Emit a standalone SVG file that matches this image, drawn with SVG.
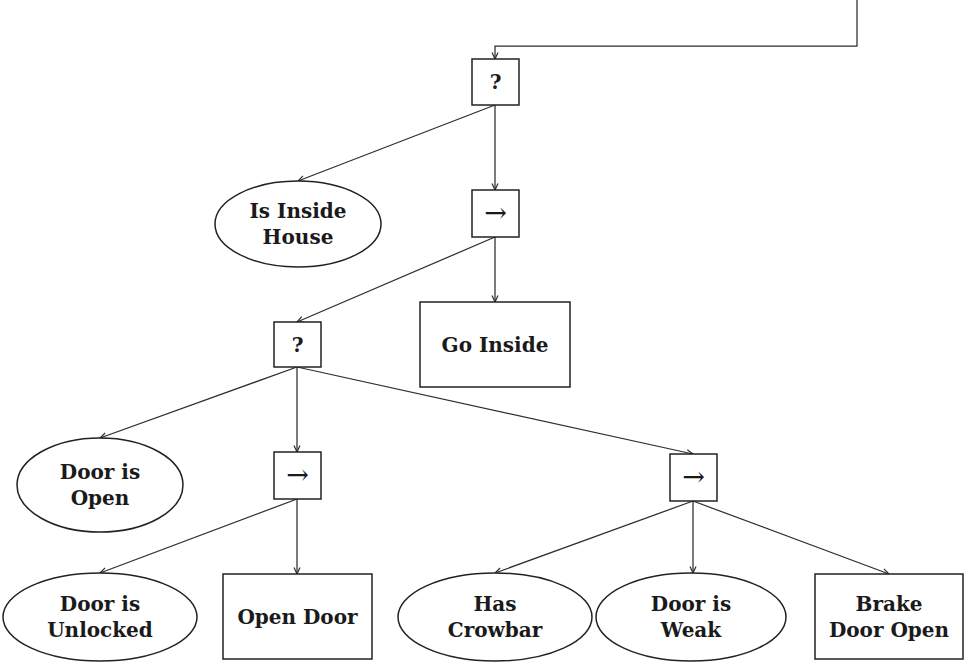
<svg xmlns="http://www.w3.org/2000/svg" width="965" height="663" viewBox="0 0 965 663">
  <style>
    .shape { fill: #ffffff; stroke: #222222; stroke-width: 1.5; }
    .edge { fill: none; stroke: #2e2e2e; stroke-width: 1.25; marker-end: url(#tip); }
    .label { font-family: "DejaVu Serif", "Liberation Serif", serif; font-weight: bold; font-size: 20px; fill: #1a1a1a; text-anchor: middle; }
    .sym { font-family: "DejaVu Serif", "Liberation Serif", serif; font-size: 27px; fill: #1a1a1a; text-anchor: middle; }
  </style>
  <defs>
    <marker id="tip" viewBox="0 0 8 8" refX="7.5" refY="4" markerWidth="8" markerHeight="8" markerUnits="userSpaceOnUse" orient="auto">
      <path d="M1,1 L7.5,4 L1,7" fill="none" stroke="#2e2e2e" stroke-width="1.2"/>
    </marker>
  </defs>

  <!-- connectors -->
  <g id="connectors">
    <path class="edge" d="M857,0 V46 H495 V59"/>
    <path class="edge" d="M495,105 L298,181"/>
    <path class="edge" d="M495,105 L495,190"/>
    <path class="edge" d="M495,237 L297,322"/>
    <path class="edge" d="M495,237 L495,302"/>
    <path class="edge" d="M297,367 L100,438"/>
    <path class="edge" d="M297,367 L297,452"/>
    <path class="edge" d="M297,367 L693,454"/>
    <path class="edge" d="M297,499 L100,573"/>
    <path class="edge" d="M297,499 L297,574"/>
    <path class="edge" d="M693,501 L495,573"/>
    <path class="edge" d="M693,501 L693,573"/>
    <path class="edge" d="M693,501 L889,574"/>
  </g>

  <!-- root fallback -->
  <g id="fallback-root">
    <rect class="shape" x="472" y="59" width="47" height="46"/>
    <text class="label" x="495.5" y="89">?</text>
  </g>

  <g id="is-inside-house">
    <ellipse class="shape" cx="298" cy="224" rx="83" ry="43"/>
    <text class="label" x="298" y="218">Is Inside</text>
    <text class="label" x="298" y="244">House</text>
  </g>

  <g id="sequence-enter">
    <rect class="shape" x="472" y="190" width="47" height="47"/>
    <text class="sym" x="495.5" y="222">→</text>
  </g>

  <g id="go-inside">
    <rect class="shape" x="420" y="302" width="150" height="85"/>
    <text class="label" x="495" y="352">Go Inside</text>
  </g>

  <g id="fallback-door">
    <rect class="shape" x="274" y="322" width="47" height="45"/>
    <text class="label" x="297.5" y="352">?</text>
  </g>

  <g id="door-is-open">
    <ellipse class="shape" cx="100" cy="485" rx="83" ry="47"/>
    <text class="label" x="100" y="479">Door is</text>
    <text class="label" x="100" y="505">Open</text>
  </g>

  <g id="sequence-unlock">
    <rect class="shape" x="274" y="452" width="47" height="47"/>
    <text class="sym" x="297.5" y="484">→</text>
  </g>

  <g id="sequence-force">
    <rect class="shape" x="670" y="454" width="47" height="47"/>
    <text class="sym" x="693.5" y="486">→</text>
  </g>

  <g id="door-is-unlocked">
    <ellipse class="shape" cx="100" cy="617" rx="97" ry="44"/>
    <text class="label" x="100" y="611">Door is</text>
    <text class="label" x="100" y="637">Unlocked</text>
  </g>

  <g id="open-door">
    <rect class="shape" x="223" y="574" width="149" height="85"/>
    <text class="label" x="297.5" y="624">Open Door</text>
  </g>

  <g id="has-crowbar">
    <ellipse class="shape" cx="495" cy="617" rx="97" ry="44"/>
    <text class="label" x="495" y="611">Has</text>
    <text class="label" x="495" y="637">Crowbar</text>
  </g>

  <g id="door-is-weak">
    <ellipse class="shape" cx="691" cy="617" rx="95" ry="44"/>
    <text class="label" x="691" y="611">Door is</text>
    <text class="label" x="691" y="637">Weak</text>
  </g>

  <g id="brake-door-open">
    <rect class="shape" x="815" y="574" width="148" height="85"/>
    <text class="label" x="889" y="611">Brake</text>
    <text class="label" x="889" y="637">Door Open</text>
  </g>
</svg>
